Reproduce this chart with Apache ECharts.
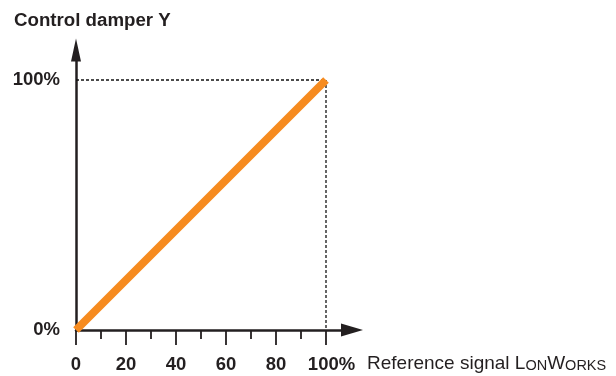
<!DOCTYPE html>
<html>
<head>
<meta charset="utf-8">
<script src="https://cdn.jsdelivr.net/npm/echarts@6/dist/echarts.min.js"></script>
<style>html,body{margin:0;padding:0;background:#fff}#c{width:616px;height:376px}</style>
</head>
<body>
<div id="c"></div>
<script>
// Data
const signalPct = [0, 100];          // reference signal (x, %)
const damperPct = [0, 100];          // control damper Y (%)
const guideX = [0, 100, 100];        // dashed guide path x
const guideY = [100, 100, 0];        // dashed guide path y
const majorTicks = [0, 20, 40, 60, 80, 100];
const minorTicks = [10, 30, 50, 70, 90];
const yTicks = [0, 100];
const titleText = 'Control damper Y';

const FONT = '"Liberation Sans", Arial, sans-serif';
const chart = echarts.init(document.getElementById('c'), null, {renderer: 'canvas'});

const X_MAX = 110.4, Y_MAX = 112;
const axisBase = {
  type: 'value', min: 0, max: X_MAX, position: 'bottom',
  splitLine: {show: false}
};

chart.setOption({
  animation: false,
  grid: {left: 76, top: 330 - Y_MAX * 2.5, width: X_MAX * 2.5, height: Y_MAX * 2.5, containLabel: false},
  xAxis: [
    Object.assign({}, axisBase, {
      axisLine: {show: true, lineStyle: {color: '#231f20', width: 2.5},
        symbol: ['none', 'triangle'], symbolSize: [13, 22]},
      axisTick: {show: true, length: 15, lineStyle: {color: '#231f20', width: 1.8},
        customValues: majorTicks},
      axisLabel: {show: true, margin: 25, fontFamily: FONT, fontWeight: 'bold', fontSize: 18.5,
        color: '#231f20', customValues: majorTicks,
        formatter: v => v === 100 ? '{p|100%}' : String(v),
        rich: {p: {fontFamily: FONT, fontWeight: 'bold', fontSize: 18.5, color: '#231f20', padding: [0, 0, 0, 11]}}}
    }),
    Object.assign({}, axisBase, {
      axisLine: {show: false},
      axisTick: {show: true, length: 9, lineStyle: {color: '#231f20', width: 1.8},
        customValues: minorTicks},
      axisLabel: {show: false}
    })
  ],
  yAxis: {
    type: 'value', min: 0, max: Y_MAX,
    splitLine: {show: false},
    axisLine: {show: true, lineStyle: {color: '#231f20', width: 2.5},
      symbol: ['none', 'triangle'], symbolSize: [10, 23]},
    axisTick: {show: false},
    axisLabel: {show: true, margin: 16, fontFamily: FONT, fontWeight: 'bold', fontSize: 18.5,
      color: '#231f20', customValues: yTicks, formatter: v => v + '%'}
  },
  series: [
    {
      type: 'line', xAxisIndex: 0, z: 1,
      data: guideX.map((x, i) => [x, guideY[i]]),
      symbol: 'none',
      lineStyle: {color: '#111111', width: 1.3, type: [3, 2]}
    },
    {
      type: 'line', xAxisIndex: 0, z: 2,
      data: signalPct.map((x, i) => [x, damperPct[i]]),
      symbol: 'none',
      lineStyle: {color: '#f68b1f', width: 8, cap: 'butt'}
    }
  ],
  graphic: [
    {type: 'text', left: 14, top: 11, style: {text: titleText, fontFamily: FONT, fontWeight: 'bold',
      fontSize: 18.7, fill: '#231f20'}},
    {type: 'text', left: 367, top: 354, style: {
      text: '{n|Reference signal L}{s|ON}{n|W}{s|ORKS}',
      rich: {
        n: {fontFamily: FONT, fontSize: 19, fill: '#231f20', color: '#231f20', verticalAlign: 'bottom'},
        s: {fontFamily: FONT, fontSize: 14.5, fill: '#231f20', color: '#231f20', verticalAlign: 'bottom'}
      }
    }}
  ]
});
</script>
</body>
</html>
